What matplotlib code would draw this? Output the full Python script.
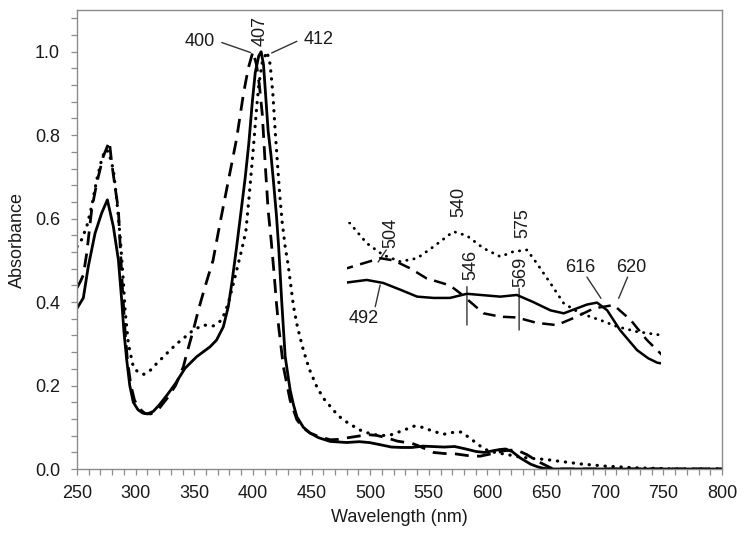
import numpy as np
import matplotlib
matplotlib.use('Agg')
import matplotlib.pyplot as plt
from matplotlib.ticker import MultipleLocator, FormatStrFormatter

plt.rcParams['font.family'] = ['Liberation Sans', 'DejaVu Sans']

# spectra (wavelength in nm, absorbance)
wl_solid = [250, 255.4, 259.6, 265.4, 271, 275.9, 281, 285.3, 288.1, 290, 292.4, 295, 298,
            302, 306, 310, 315, 320, 327, 334, 342, 352, 363.5, 369, 374.8, 379, 382, 386,
            390, 393.5, 396.5, 399.5, 402, 405, 407, 409, 411, 413, 415.5, 417.5, 420, 422,
            424.6, 427.5, 431.7, 434.5, 437.5, 443, 448.8, 456, 466, 480, 490.8, 499.7,
            508.9, 518.1, 527, 535.8, 545, 563.1, 572, 580.9, 590.2, 597.4, 604.4, 610,
            615.4, 620.9, 627.8, 637, 643, 648, 655, 800]
abs_solid = [0.385, 0.41, 0.485, 0.565, 0.613, 0.645, 0.581, 0.501, 0.405, 0.33, 0.261, 0.2,
             0.16, 0.142, 0.134, 0.132, 0.138, 0.153, 0.178, 0.205, 0.241, 0.269, 0.293,
             0.309, 0.341, 0.389, 0.445, 0.53, 0.62, 0.70, 0.78, 0.88, 0.95, 0.99, 1.0, 0.97,
             0.89, 0.81, 0.75, 0.69, 0.61, 0.53, 0.40, 0.27, 0.19, 0.155, 0.125, 0.1, 0.086,
             0.075, 0.066, 0.0635, 0.0655, 0.0632, 0.058, 0.0526, 0.0516, 0.0516, 0.0548,
             0.0526, 0.0539, 0.0484, 0.042, 0.0397, 0.0435, 0.0465, 0.048, 0.042, 0.0268,
             0.0113, 0.005, 0.0015, 0.0, 0.0]

wl_dash = [250, 253, 255.4, 258.3, 262.5, 266.8, 272.4, 277.6, 279.6, 282.4, 285.3, 286.7,
           289, 291, 293, 296, 299, 303, 308, 313, 320, 327, 334, 340.7, 343.6, 349.2, 353.5,
           359.2, 366, 372, 379, 386, 392, 396, 400, 403, 405.5, 408, 410.5, 413, 415.5, 418,
           420, 422, 426, 431.7, 437.5, 443, 448.8, 456, 466, 473, 480, 498.1, 505.4, 514.3,
           523.1, 535.8, 541.4, 554, 563.1, 572, 582.8, 593.6, 604.4, 613.6, 624.4, 633.6,
           642.4, 649.7, 656, 800]
abs_dash = [0.434, 0.45, 0.465, 0.517, 0.621, 0.685, 0.749, 0.785, 0.733, 0.677, 0.621, 0.54,
            0.42, 0.33, 0.26, 0.2, 0.165, 0.145, 0.133, 0.132, 0.145, 0.17, 0.2, 0.245, 0.277,
            0.333, 0.381, 0.437, 0.5, 0.59, 0.69, 0.79, 0.9, 0.96, 1.0, 0.97, 0.92, 0.85, 0.73,
            0.62, 0.55, 0.47, 0.40, 0.34, 0.245, 0.165, 0.118, 0.098, 0.086, 0.078, 0.07,
            0.071, 0.0745, 0.0823, 0.0806, 0.0745, 0.0668, 0.0613, 0.0552, 0.0397, 0.0371,
            0.0365, 0.0323, 0.0306, 0.0371, 0.0435, 0.0461, 0.0345, 0.019, 0.0087, 0.0, 0.0]

wl_dot = [250, 254, 258.3, 262.5, 266.8, 271, 274, 277, 281, 283.9, 286.7, 289.5, 291, 293.8,
          298, 302, 307, 312, 316.6, 323, 329.4, 335, 340.7, 349.2, 357.8, 366.3, 373.5, 379,
          383.4, 387.6, 390, 394, 397, 400.4, 403, 405, 408, 412, 414.7, 417, 419, 421, 423,
          425, 427.5, 430, 434.6, 438, 443, 448, 454.5, 460, 466, 472, 477, 481, 490.8, 499.7,
          508.9, 518.1, 527, 537.7, 545, 554, 563.1, 570.1, 577.5, 582.8, 590.2, 597.4, 606.3,
          617.1, 626.3, 637, 649.7, 660, 680, 700, 725, 760, 800]
abs_dot = [0.533, 0.55, 0.581, 0.629, 0.693, 0.741, 0.765, 0.76, 0.717, 0.645, 0.56, 0.45,
           0.38, 0.30, 0.245, 0.232, 0.227, 0.235, 0.249, 0.267, 0.285, 0.30, 0.313, 0.333,
           0.345, 0.343, 0.357, 0.397, 0.445, 0.493, 0.52, 0.57, 0.66, 0.77, 0.86, 0.92,
           0.975, 1.0, 0.97, 0.9, 0.81, 0.73, 0.653, 0.59, 0.533, 0.49, 0.39, 0.34, 0.285,
           0.24, 0.197, 0.17, 0.15, 0.13, 0.118, 0.1106, 0.0939, 0.0848, 0.0797, 0.0823,
           0.0913, 0.1029, 0.0997, 0.09, 0.0835, 0.0874, 0.0887, 0.0784, 0.0629, 0.0474,
           0.0397, 0.0345, 0.0294, 0.0255, 0.0229, 0.019, 0.012, 0.007, 0.003, 0.0, 0.0]

grey = '#8c8c8c'
fs = 13

fig = plt.figure(figsize=(7.48, 5.43), dpi=100)
ax = fig.add_axes([77 / 748, 1 - 469 / 543, 645 / 748, 459 / 543])


def draw(a, lw):
    a.plot(wl_solid, abs_solid, color='black', lw=lw, solid_capstyle='round')
    a.plot(wl_dash, abs_dash, color='black', lw=lw, dashes=(5, 3))
    a.plot(wl_dot, abs_dot, color='black', lw=lw * 1.15, linestyle=(0, (0.1, 2.4)),
           dash_capstyle='round')


draw(ax, 2.0)

ax.set_xlim(250, 800)
ax.set_ylim(0, 1.1)
ax.xaxis.set_major_locator(MultipleLocator(50))
ax.xaxis.set_minor_locator(MultipleLocator(10))
ax.yaxis.set_major_locator(MultipleLocator(0.2))
ax.yaxis.set_minor_locator(MultipleLocator(0.04))
ax.yaxis.set_major_formatter(FormatStrFormatter('%.1f'))
for s in ax.spines.values():
    s.set_color(grey)
    s.set_linewidth(1.0)
ax.tick_params(which='both', direction='out', color=grey, length=4.3, width=0.9,
               labelsize=fs, labelcolor='#1a1a1a', top=False, right=False)
ax.tick_params(axis='x', pad=7)
ax.tick_params(axis='y', pad=8)
ax.set_xlabel('Wavelength (nm)', fontsize=fs, color='#1a1a1a', labelpad=5)
ax.set_ylabel('Absorbance', fontsize=fs, color='#1a1a1a', labelpad=6)

# magnified view of the visible bands, drawn from the same data
ins = ax.inset_axes([480, 0.25, 268, 0.341], transform=ax.transData)
draw(ins, 1.8)
ins.set_xlim(480, 650)
ins.set_ylim(0, 0.11)
ins.axis('off')
ins.patch.set_alpha(0)

lead = dict(arrowstyle='-', color='#333333', lw=1.0, shrinkA=0, shrinkB=0)
tk = dict(fontsize=fs, color='#1a1a1a', ha='center', va='center')

ax.annotate('', xy=(398, 0.998), xytext=(373.5, 1.022), arrowprops=lead)
ax.text(355, 1.024, '400', **tk)
ax.text(406, 1.049, '407', rotation=90, **tk)
ax.annotate('', xy=(416, 0.997), xytext=(437.5, 1.025), arrowprops=lead)
ax.text(456, 1.03, '412', **tk)

ax.annotate('', xy=(506.8, 0.496), xytext=(513.7, 0.525), arrowprops=lead)
ax.text(517.6, 0.565, '504', rotation=90, **tk)
ax.annotate('', xy=(508.5, 0.441), xytext=(504.3, 0.389), arrowprops=lead)
ax.text(494.3, 0.361, '492', **tk)
ax.annotate('', xy=(582.5, 0.345), xytext=(582.5, 0.437), arrowprops=lead)
ax.text(585.9, 0.489, '546', rotation=90, **tk)
ax.annotate('', xy=(627, 0.333), xytext=(627, 0.433), arrowprops=lead)
ax.text(628.5, 0.473, '569', rotation=90, **tk)
ax.text(576, 0.641, '540', rotation=90, **tk)
ax.text(630, 0.589, '575', rotation=90, **tk)
ax.annotate('', xy=(696.8, 0.409), xytext=(684.8, 0.46), arrowprops=lead)
ax.text(679, 0.484, '616', **tk)
ax.annotate('', xy=(711.9, 0.409), xytext=(719.5, 0.46), arrowprops=lead)
ax.text(722.7, 0.484, '620', **tk)

fig.savefig('out.png', dpi=100)
